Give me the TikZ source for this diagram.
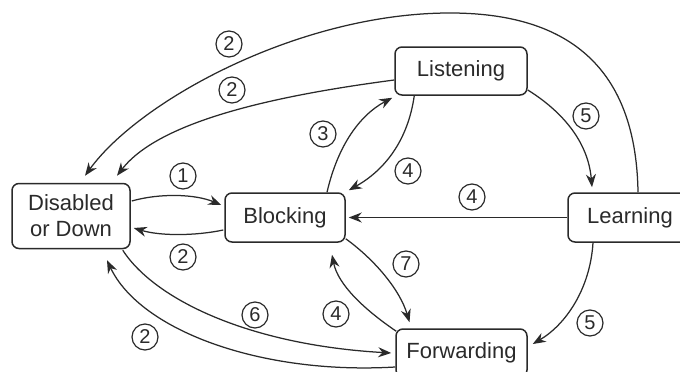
\documentclass[tikz,border=0pt]{standalone}
\usepackage{fontspec}
\setmainfont{Liberation Sans}
\usetikzlibrary{arrows.meta,calc}
\definecolor{ink}{HTML}{2A2A2A}
\tikzset{
  state/.style={draw=ink, line width=1.5pt, rounded corners=7pt, text=ink,
    font=\fontsize{22}{26}\selectfont, align=center, inner sep=0pt},
  num/.style={draw=ink, circle, line width=1.2pt, minimum size=26pt, inner sep=0pt,
    text=ink, font=\fontsize{20}{20}\selectfont},
  conn/.style={draw=ink, line width=1.25pt, -{Stealth[length=13pt,width=10pt]}}
}
\begin{document}
\begin{tikzpicture}[x=1pt,y=-1pt]
\useasboundingbox (0,0) rectangle (680,372);
% states
\node[state, minimum width=118pt, minimum height=65pt] (dis) at (71,216) {Disabled\\or Down};
\node[state, minimum width=120pt, minimum height=49pt] (blk) at (285,217.5) {Blocking};
\node[state, minimum width=132pt, minimum height=48pt] (lis) at (461,71) {Listening};
\node[state, minimum width=124pt, minimum height=49pt] (lrn) at (630,217.5) {Learning};
\node[state, minimum width=131pt, minimum height=48pt] (fwd) at (461.5,353) {Forwarding};
% labels
\node[num] (l1) at (183,176) {1};
\node[num] (l2a) at (183,257) {2};
\node[num] (l2b) at (229,44) {2};
\node[num] (l2c) at (232,90) {2};
\node[num] (l3) at (323,134) {3};
\node[num] (l4a) at (408,171) {4};
\node[num] (l5a) at (586,116) {5};
\node[num] (l4b) at (472,197) {4};
\node[num] (l7) at (406,264) {7};
\node[num] (l4c) at (336,314) {4};
\node[num] (l5b) at (590,323) {5};
\node[num] (l6) at (255,315) {6};
\node[num] (l2d) at (145,337) {2};
% connectors
\draw[conn] ($(dis.east)+(1,-15)$) .. controls (160,193) and (195,194) .. ($(blk.west)+(-3,-12.5)$);
\draw[conn] ($(blk.west)+(-1,12.5)$) .. controls (195,236) and (160,236) .. ($(dis.east)+(3,12)$);
\draw[conn] ($(lrn.north)+(8,0)$) .. controls (636,60) and (560,13) .. (450,13)
   .. controls (300,13) and (140,100) .. ($(dis.north)+(14,-7)$);
\draw[conn] ($(lis.west)+(0,9)$) .. controls (280,95) and (160,120) .. ($(dis.north)+(46,-7)$);
\draw[conn] ($(blk.north)+(42,0)$) .. controls (338,145) and (360,115) .. ($(lis.south west)+(-2,2)$);
\draw[conn] ($(lis.south west)+(20,0)$) .. controls (408,140) and (385,170) .. ($(blk.north east)+(3,-2)$);
\draw[conn] ($(lis.east)+(0,19)$) .. controls (560,110) and (588,140) .. ($(lrn.north)+(-38,-5)$);
\draw[conn] (lrn.west) -- ($(blk.east)+(3,0)$);
\draw[conn] ($(blk.south east)+(0,-4)$) .. controls (375,260) and (400,290) .. ($(fwd.north)+(-52,-6)$);
\draw[conn] ($(fwd.north west)+(1,3)$) .. controls (365,310) and (338,285) .. ($(blk.south)+(47,12)$);
\draw[conn] ($(lrn.south)+(-37,0)$) .. controls (590,290) and (565,325) .. ($(fwd.east)+(5,-9)$);
\draw[conn] ($(dis.south east)+(-8,1)$) .. controls (155,300) and (250,345) .. ($(fwd.west)+(-4,0)$);
\draw[conn] ($(fwd.west)+(0,14)$) .. controls (260,375) and (140,330) .. ($(dis.south)+(36,11)$);
\end{tikzpicture}
\end{document}
